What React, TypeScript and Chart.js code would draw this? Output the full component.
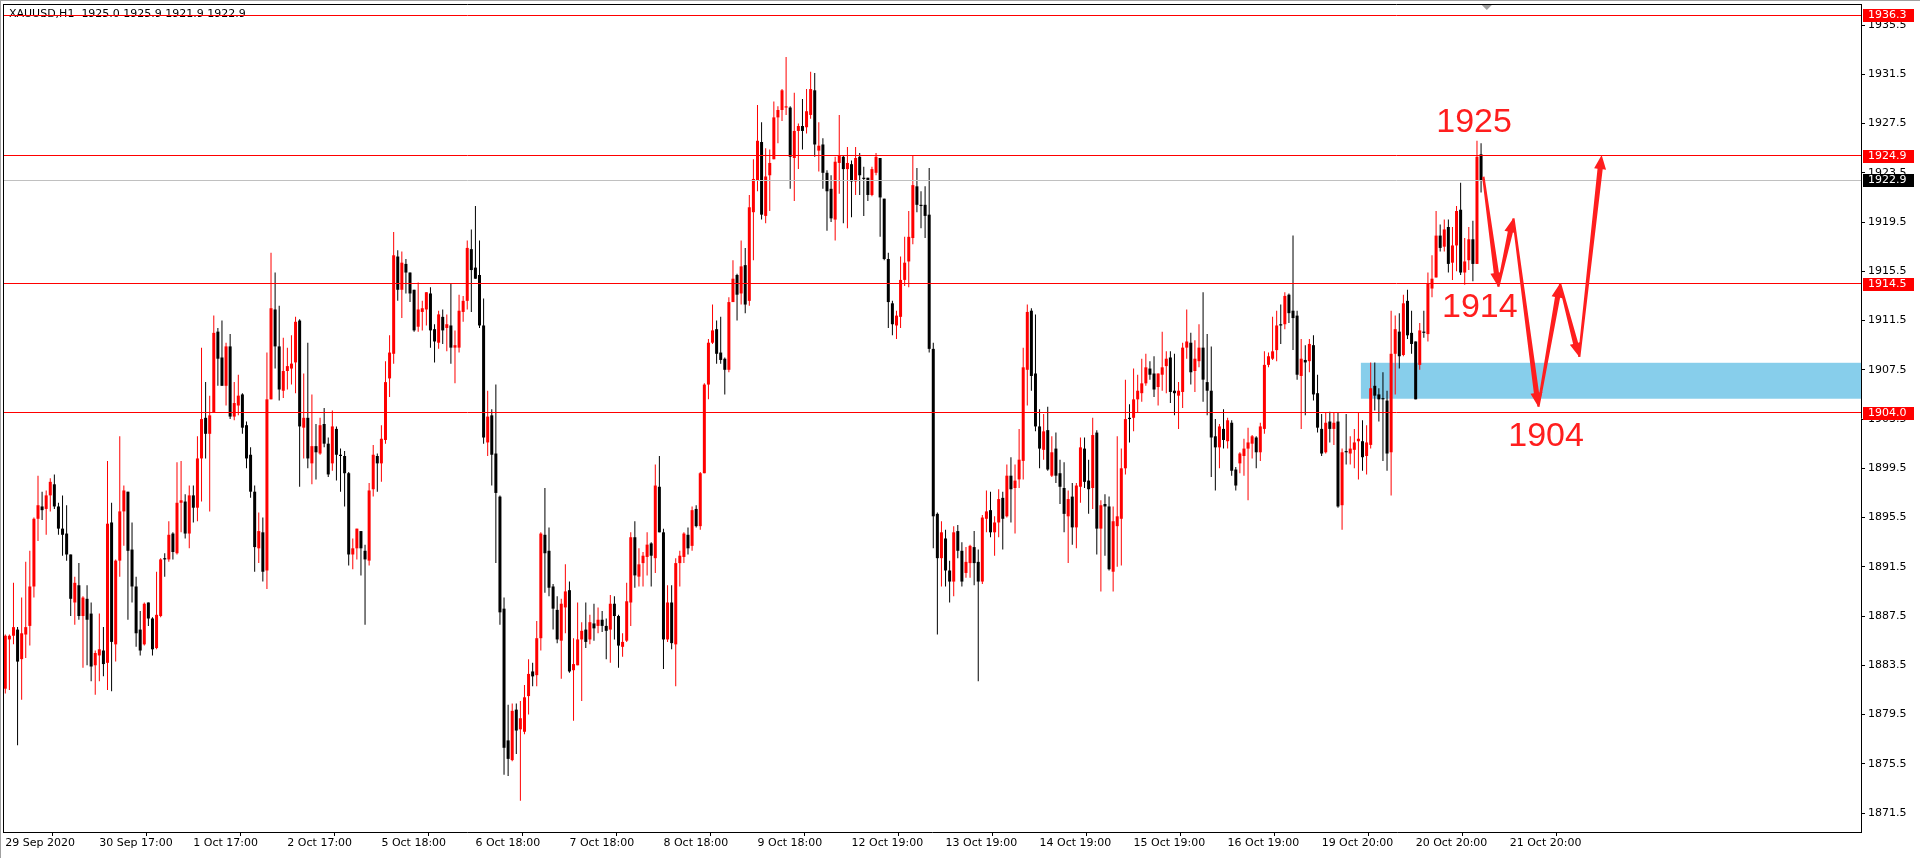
import React, { useEffect, useRef } from 'react';
import { Chart, registerables } from 'chart.js';

Chart.register(...registerables);

// ---------------- data (XAUUSD, H1) ----------------
const OPEN = [
  1881.6,1885.6,1885.9,1886.4,1884.0,1886.0,1886.7,1889.9,1895.4,1896.4,
  1896.2,1897.3,1898.2,1896.4,1894.6,1894.2,1892.5,1888.6,1890.0,1887.5,
  1888.9,1887.7,1883.5,1884.3,1884.7,1883.7,1895.1,1885.2,1892.0,1896.0,
  1897.6,1892.9,1889.9,1886.4,1885.2,1888.6,1887.3,1884.9,1887.5,1892.2,
  1892.1,1894.2,1892.6,1896.7,1896.8,1894.2,1897.3,1896.3,1900.3,1903.6,
  1902.3,1904.0,1910.6,1908.5,1906.2,1909.4,1903.7,1904.6,1905.5,1903.0,
  1900.6,1897.6,1893.0,1894.3,1891.2,1905.1,1912.4,1909.4,1905.8,1907.4,
  1907.6,1908.1,1911.5,1902.8,1903.6,1899.9,1901.3,1900.7,1903.1,1901.5,
  1899.9,1902.7,1900.6,1900.5,1899.1,1892.5,1893.0,1894.4,1892.8,1892.0,
  1897.8,1900.5,1899.9,1901.8,1906.8,1908.8,1916.7,1914.0,1916.1,1915.4,
  1914.0,1911.0,1912.2,1912.4,1913.7,1910.8,1909.7,1911.8,1910.9,1911.1,
  1909.3,1909.3,1912.2,1913.1,1917.3,1915.8,1915.2,1911.1,1901.6,1903.8,
  1900.7,1897.2,1888.1,1877.4,1875.8,1879.9,1878.3,1878.1,1881.0,1883.0,
  1882.7,1885.7,1894.1,1892.8,1889.9,1888.0,1885.5,1888.2,1889.6,1883.1,
  1883.5,1885.6,1886.4,1885.6,1886.9,1886.7,1887.2,1886.7,1886.4,1888.5,
  1887.5,1885.0,1885.5,1888.6,1893.9,1890.7,1891.8,1892.3,1893.4,1892.2,
  1898.0,1894.3,1885.6,1888.6,1885.2,1891.8,1892.3,1894.1,1893.2,1896.2,
  1894.8,1899.1,1906.3,1909.7,1910.8,1908.9,1908.4,1907.5,1913.0,1915.2,
  1913.7,1916.0,1913.1,1920.3,1922.9,1926.0,1920.0,1923.3,1924.6,1928.0,
  1928.6,1928.8,1928.8,1924.7,1926.9,1927.3,1927.2,1928.2,1930.2,1925.3,
  1925.8,1923.5,1922.2,1919.7,1924.3,1924.8,1923.8,1924.2,1922.8,1924.8,
  1923.1,1923.1,1921.7,1923.5,1924.7,1921.4,1916.5,1912.9,1911.1,1911.8,
  1914.8,1916.3,1918.2,1922.4,1920.9,1920.9,1920.1,1909.2,1895.8,1892.2,
  1893.8,1891.2,1890.3,1894.4,1892.8,1891.0,1891.8,1893.1,1891.9,1890.3,
  1895.4,1896.1,1894.3,1895.1,1897.1,1895.6,1898.9,1897.9,1898.6,1900.1,
  1907.5,1912.3,1907.2,1902.9,1901.0,1902.6,1898.9,1901.1,1899.1,1897.9,
  1895.6,1897.2,1894.7,1898.0,1901.1,1898.5,1897.9,1902.4,1894.6,1896.6,
  1896.4,1891.1,1894.8,1895.4,1899.5,1903.6,1903.6,1905.1,1905.6,1906.4,
  1907.6,1907.2,1906.1,1907.1,1907.8,1908.5,1905.8,1905.4,1905.7,1909.3,
  1909.7,1907.4,1908.2,1909.3,1906.5,1905.8,1902.1,1901.2,1902.7,1901.7,
  1903.2,1899.4,1899.9,1900.5,1901.1,1901.5,1902.0,1900.8,1902.7,1907.9,
  1908.4,1909.1,1911.2,1911.2,1913.6,1912.3,1911.9,1907.0,1908.3,1908.2,
  1909.5,1905.6,1902.7,1900.8,1903.3,1902.7,1903.3,1896.5,1900.9,1900.7,
  1901.0,1901.7,1901.7,1900.5,1901.4,1906.2,1905.5,1905.2,1905.0,1900.8,
  1908.8,1910.6,1908.7,1913.1,1910.5,1909.8,1907.9,1910.6,1910.4,1914.1,
  1915.0,1918.4,1917.5,1919.1,1916.2,1917.6,1920.5,1915.4,1916.4,1918.1,
  1916.1,1925.0,
];
const HIGH = [
  1886.0,1886.0,1890.2,1886.6,1889.0,1891.9,1892.8,1895.5,1898.9,1897.6,
  1897.7,1898.7,1899.0,1896.7,1897.3,1896.5,1892.5,1890.7,1891.8,1889.1,
  1890.0,1888.6,1884.7,1887.7,1886.6,1900.1,1896.7,1892.1,1902.1,1898.1,
  1897.6,1895.1,1890.7,1887.9,1888.6,1888.6,1887.4,1891.1,1892.2,1892.6,
  1895.2,1894.3,1900.0,1900.1,1897.4,1898.1,1898.1,1902.1,1909.3,1906.5,
  1905.4,1911.9,1910.9,1911.5,1909.7,1910.4,1906.5,1907.1,1905.6,1903.3,
  1901.2,1898.1,1895.9,1895.5,1908.9,1917.0,1915.4,1912.7,1910.1,1909.3,
  1910.3,1911.8,1911.6,1907.2,1909.7,1905.5,1903.1,1903.6,1904.4,1902.0,
  1904.2,1902.9,1901.1,1900.9,1899.2,1893.8,1894.6,1894.4,1893.3,1898.3,
  1901.4,1900.7,1903.0,1908.2,1910.3,1918.7,1917.2,1917.1,1916.5,1915.4,
  1914.0,1914.6,1913.1,1913.8,1914.2,1911.2,1912.3,1912.4,1912.0,1914.5,
  1910.7,1913.6,1913.5,1918.0,1918.9,1920.8,1918.0,1913.3,1905.8,1904.3,
  1906.3,1897.3,1889.0,1880.3,1880.4,1880.4,1880.6,1881.9,1884.0,1883.7,
  1887.1,1894.3,1897.9,1894.7,1890.1,1889.1,1888.9,1891.7,1890.3,1885.7,
  1888.6,1887.0,1888.6,1887.6,1888.5,1888.2,1887.9,1887.3,1889.2,1889.1,
  1887.6,1886.1,1890.2,1894.3,1895.2,1893.0,1892.7,1894.3,1893.5,1899.8,
  1900.5,1894.6,1890.0,1890.0,1892.2,1892.8,1894.3,1894.7,1896.4,1896.5,
  1899.2,1906.4,1910.0,1912.8,1911.5,1911.8,1908.5,1913.4,1916.4,1915.3,
  1918.0,1917.4,1921.7,1924.6,1929.0,1927.6,1925.5,1925.4,1929.3,1928.9,
  1930.3,1932.9,1928.9,1930.0,1927.5,1929.5,1930.3,1931.7,1931.6,1927.6,
  1926.3,1923.7,1923.3,1924.8,1928.2,1924.9,1925.6,1924.5,1925.6,1925.1,
  1924.0,1923.1,1924.0,1925.1,1924.7,1921.4,1917.0,1913.1,1912.3,1916.7,
  1918.3,1920.4,1924.9,1923.9,1922.0,1922.4,1923.9,1909.7,1895.9,1895.2,
  1894.5,1892.0,1894.8,1894.9,1893.5,1893.1,1893.3,1894.4,1892.9,1895.7,
  1897.7,1897.6,1895.6,1897.8,1897.6,1899.8,1900.4,1899.8,1902.7,1909.3,
  1912.8,1912.5,1912.0,1904.3,1903.9,1904.5,1902.1,1902.4,1900.2,1900.0,
  1897.7,1898.3,1898.3,1902.0,1902.0,1900.2,1903.6,1902.6,1896.9,1897.4,
  1897.2,1896.4,1902.1,1901.1,1906.7,1904.7,1907.6,1907.1,1908.4,1908.8,
  1908.2,1908.6,1907.2,1910.6,1909.0,1909.0,1908.8,1906.5,1909.7,1912.4,
  1910.5,1909.9,1911.2,1913.8,1910.4,1909.4,1903.5,1903.1,1904.3,1903.6,
  1903.4,1899.6,1900.8,1901.9,1902.8,1902.2,1902.1,1903.2,1909.0,1908.9,
  1911.8,1912.3,1912.8,1913.8,1913.7,1918.4,1912.3,1910.0,1909.5,1910.0,
  1910.3,1907.1,1903.9,1904.0,1904.1,1904.0,1904.0,1901.1,1903.9,1902.1,
  1902.7,1904.0,1903.4,1903.0,1908.1,1908.1,1906.0,1907.3,1905.8,1912.3,
  1911.9,1912.1,1913.6,1914.0,1912.3,1909.8,1911.3,1912.3,1915.4,1916.8,
  1920.4,1919.3,1919.7,1919.7,1919.1,1920.8,1922.7,1918.2,1919.1,1919.6,
  1926.1,1925.9,
];
const LOW = [
  1881.2,1881.5,1885.2,1877.0,1880.7,1884.1,1885.1,1889.0,1893.6,1895.3,
  1894.1,1896.0,1896.2,1894.1,1892.4,1892.0,1887.5,1886.8,1887.2,1883.3,
  1883.5,1882.2,1881.1,1882.2,1882.6,1881.5,1881.4,1883.8,1890.7,1893.2,
  1887.2,1888.6,1885.0,1884.3,1885.1,1886.7,1884.3,1884.8,1887.4,1890.7,
  1891.9,1892.1,1892.5,1894.3,1893.8,1893.0,1895.1,1895.2,1896.8,1900.3,
  1896.0,1904.0,1906.2,1906.2,1904.6,1903.5,1903.4,1903.8,1902.3,1899.5,
  1897.1,1891.1,1891.8,1890.3,1889.7,1905.1,1907.6,1905.0,1905.2,1905.9,
  1906.3,1905.6,1898.0,1900.3,1899.5,1898.2,1898.6,1900.6,1901.2,1898.8,
  1899.3,1898.5,1897.6,1896.4,1891.6,1891.3,1892.1,1890.8,1886.8,1891.6,
  1897.2,1897.6,1898.4,1901.5,1905.3,1908.0,1913.1,1911.7,1913.7,1913.0,
  1910.6,1910.6,1910.7,1911.1,1909.3,1908.1,1909.2,1909.6,1909.0,1908.0,
  1906.4,1908.9,1911.4,1912.4,1912.2,1914.9,1910.9,1901.5,1900.5,1898.1,
  1891.8,1886.8,1874.6,1874.5,1875.7,1876.3,1872.5,1877.9,1879.5,1881.8,
  1881.8,1884.7,1889.4,1889.1,1886.4,1885.3,1882.4,1886.1,1882.9,1879.0,
  1883.5,1880.6,1884.9,1885.2,1885.5,1886.1,1886.2,1884.0,1883.7,1885.6,
  1883.3,1884.2,1885.4,1886.7,1889.8,1889.9,1889.9,1890.8,1889.9,1891.0,
  1894.3,1883.2,1885.4,1884.8,1881.8,1889.9,1891.8,1892.5,1892.8,1894.7,
  1894.5,1899.1,1905.1,1909.6,1908.0,1908.0,1905.5,1907.3,1913.0,1911.5,
  1912.8,1912.1,1912.7,1916.4,1922.0,1919.7,1919.4,1920.4,1924.6,1925.9,
  1927.7,1928.2,1922.2,1921.2,1923.8,1925.4,1926.7,1927.9,1924.8,1923.6,
  1922.2,1918.8,1919.5,1918.0,1921.8,1919.4,1919.0,1919.9,1921.7,1921.7,
  1920.0,1921.2,1921.6,1923.3,1918.3,1916.4,1910.9,1910.3,1910.0,1910.9,
  1914.3,1914.2,1917.7,1920.3,1919.0,1918.2,1908.9,1893.0,1886.0,1889.9,
  1889.9,1888.6,1889.1,1892.2,1889.9,1890.6,1890.6,1890.0,1882.2,1890.1,
  1894.3,1893.9,1892.4,1893.9,1892.9,1895.5,1895.1,1894.2,1897.9,1898.6,
  1904.6,1905.8,1902.5,1899.5,1900.2,1899.3,1898.8,1898.3,1896.6,1894.3,
  1891.8,1893.3,1893.0,1896.7,1897.9,1895.8,1896.2,1892.5,1889.5,1892.4,
  1891.2,1889.5,1891.5,1891.6,1899.0,1901.6,1902.5,1904.0,1904.9,1906.2,
  1906.7,1905.3,1904.6,1905.8,1905.6,1904.8,1903.8,1902.7,1904.4,1908.4,
  1906.3,1905.7,1907.7,1904.9,1903.8,1898.8,1897.7,1899.5,1901.1,1901.1,
  1898.9,1897.7,1899.1,1898.9,1896.9,1900.3,1899.5,1900.1,1902.3,1907.7,
  1908.3,1908.2,1909.6,1910.8,1911.3,1909.1,1906.7,1902.7,1903.8,1907.3,
  1905.0,1902.4,1900.5,1900.7,1901.6,1901.4,1896.3,1894.5,1899.8,1899.8,
  1899.5,1898.6,1899.3,1899.0,1901.1,1904.2,1903.3,1900.1,1899.3,1897.3,
  1905.5,1907.6,1908.6,1910.0,1908.8,1905.1,1907.5,1910.1,1909.8,1913.4,
  1915.0,1917.1,1917.1,1915.4,1914.8,1915.5,1915.2,1914.4,1915.6,1914.7,
  1916.1,1921.9,
];
const CLOSE = [
  1885.9,1885.9,1886.6,1883.8,1886.1,1886.6,1889.9,1895.4,1896.5,1896.1,
  1897.3,1898.4,1896.4,1894.6,1894.1,1892.5,1888.9,1890.2,1887.5,1889.0,
  1887.2,1883.4,1884.5,1884.8,1883.6,1895.0,1885.4,1892.0,1896.0,1897.7,
  1892.8,1889.9,1886.1,1884.7,1888.5,1887.3,1884.8,1887.6,1892.1,1892.1,
  1894.1,1892.7,1896.7,1896.9,1894.2,1897.3,1896.3,1900.3,1903.5,1902.3,
  1903.8,1910.5,1908.4,1906.2,1909.4,1903.7,1904.8,1905.4,1902.8,1900.3,
  1897.6,1893.1,1894.4,1891.1,1905.1,1912.5,1909.4,1905.9,1907.4,1907.8,
  1908.0,1911.4,1902.9,1903.6,1900.3,1901.3,1900.8,1903.0,1901.5,1899.0,
  1902.9,1900.6,1900.5,1899.1,1892.5,1893.0,1894.6,1893.0,1892.1,1897.7,
  1900.6,1899.9,1901.9,1906.5,1908.9,1916.8,1914.0,1916.2,1915.4,1913.7,
  1910.7,1912.4,1912.5,1913.8,1910.7,1909.8,1912.0,1910.7,1911.2,1909.3,
  1909.5,1912.3,1913.1,1917.4,1915.6,1914.9,1911.1,1902.0,1903.7,1900.6,
  1897.5,1887.8,1876.8,1875.9,1879.8,1878.2,1879.2,1880.9,1882.8,1882.6,
  1885.7,1894.2,1892.6,1889.8,1888.1,1885.6,1888.5,1889.5,1883.0,1883.6,
  1885.6,1886.3,1885.4,1887.0,1886.5,1887.2,1886.7,1886.3,1888.5,1887.5,
  1885.1,1885.4,1888.7,1893.9,1890.8,1891.7,1892.4,1893.3,1892.4,1898.1,
  1894.3,1885.6,1888.6,1885.3,1891.8,1892.4,1894.2,1893.0,1896.1,1894.8,
  1899.1,1906.3,1909.7,1910.7,1908.8,1908.3,1907.5,1913.0,1914.9,1913.6,
  1915.9,1912.8,1920.7,1923.0,1926.1,1920.1,1923.2,1924.3,1928.0,1928.6,
  1930.2,1928.9,1924.8,1926.9,1927.3,1926.9,1928.5,1930.3,1925.8,1925.7,
  1923.5,1922.0,1919.8,1924.4,1924.9,1923.8,1924.3,1922.8,1924.7,1923.3,
  1923.0,1921.7,1923.8,1924.8,1921.5,1916.5,1913.0,1911.2,1911.9,1914.8,
  1916.2,1918.3,1922.5,1920.9,1920.8,1920.0,1909.2,1895.6,1892.2,1894.3,
  1891.2,1890.3,1894.3,1892.8,1890.3,1891.9,1893.2,1891.8,1890.3,1895.5,
  1896.0,1894.3,1895.1,1897.0,1895.4,1898.9,1897.8,1898.5,1900.2,1907.7,
  1912.2,1907.0,1902.9,1901.1,1902.5,1899.4,1900.8,1898.9,1898.0,1895.8,
  1897.0,1894.7,1898.1,1901.2,1898.4,1897.8,1902.2,1894.6,1896.5,1896.4,
  1891.3,1895.2,1895.6,1899.5,1903.5,1903.5,1905.1,1905.8,1906.4,1907.7,
  1907.1,1905.9,1907.2,1907.7,1908.4,1905.7,1905.6,1905.8,1909.3,1909.8,
  1907.3,1908.4,1909.3,1906.7,1905.8,1902.0,1901.2,1902.9,1901.8,1903.4,
  1899.3,1898.1,1900.7,1901.1,1901.6,1902.1,1900.8,1902.9,1907.9,1908.6,
  1909.0,1911.1,1911.1,1913.5,1912.1,1911.7,1907.1,1908.4,1908.1,1909.6,
  1905.5,1902.8,1900.7,1903.2,1902.7,1903.2,1896.4,1900.8,1900.8,1901.1,
  1901.6,1901.9,1900.4,1901.6,1906.0,1905.4,1905.1,1905.1,1900.7,1908.8,
  1910.8,1908.6,1912.9,1910.3,1909.6,1905.1,1910.7,1910.5,1914.5,1914.9,
  1918.4,1917.4,1918.9,1916.1,1917.6,1920.4,1915.4,1916.3,1918.1,1916.1,
  1924.8,1922.9,
];

const X_TICK_LABELS = [
  '29 Sep 2020', '30 Sep 17:00', '1 Oct 17:00', '2 Oct 17:00', '5 Oct 18:00',
  '6 Oct 18:00', '7 Oct 18:00', '8 Oct 18:00', '9 Oct 18:00', '12 Oct 19:00',
  '13 Oct 19:00', '14 Oct 19:00', '15 Oct 19:00', '16 Oct 19:00', '19 Oct 20:00',
  '20 Oct 20:00', '21 Oct 20:00',
];
const X_TICK_STEP = 23; // bars between time labels
const Y_TICKS = [
  1871.5, 1875.5, 1879.5, 1883.5, 1887.5, 1891.5, 1895.5, 1899.5, 1903.5,
  1907.5, 1911.5, 1915.5, 1919.5, 1923.5, 1927.5, 1931.5, 1935.5,
];
const LEVELS = [1936.3, 1924.9, 1914.5, 1904.0];
const BID = 1922.9;
const ZONE_START = [331.6];
const ZONE_RANGE = [1905.15, 1908.07];
const ARROW_X = [361.55, 365.2, 368.9, 375.0, 380.3, 385.0, 390.5];
const ARROW_Y = [1923.18, 1914.24, 1919.8, 1904.5, 1914.5, 1908.55, 1924.94];
const NOTE_TEXT = ['1925', '1914', '1904'];
const NOTE_X = [359.3, 360.7, 376.9];
const NOTE_Y = [1927.6, 1912.55, 1902.07];
const SHIFT_MARK = [362.4];
const TITLE = 'XAUUSD,H1  1925.0 1925.9 1921.9 1922.9';

const X_MIN = -0.5626;
const X_MAX = 453.94;
const Y_MIN = 1869.96;
const Y_MAX = 1937.21;

const RED = '#ff0000';
const BLACK = '#000000';
const NOTE_RED = '#ff1e1e';
const AXIS_FONT = { family: "'DejaVu Sans'", size: 11 };

function drawArrow(ctx: CanvasRenderingContext2D, x1: number, y1: number, x2: number, y2: number) {
  const dx = x2 - x1, dy = y2 - y1;
  const len = Math.hypot(dx, dy);
  const ux = dx / len, uy = dy / len;
  const nx = -uy, ny = ux;
  const headLen = 14, headW = 6, w0 = 1.2, w1 = 2.6;
  const bx = x2 - ux * headLen, by = y2 - uy * headLen;
  ctx.beginPath();
  ctx.moveTo(x1 + nx * w0, y1 + ny * w0);
  ctx.lineTo(bx + nx * w1, by + ny * w1);
  ctx.lineTo(bx + nx * headW, by + ny * headW);
  ctx.lineTo(x2, y2);
  ctx.lineTo(bx - nx * headW, by - ny * headW);
  ctx.lineTo(bx - nx * w1, by - ny * w1);
  ctx.lineTo(x1 - nx * w0, y1 - ny * w0);
  ctx.closePath();
  ctx.fill();
}

const overlay = {
  id: 'mt4overlay',
  beforeDatasetsDraw(chart: any) {
    const { ctx, chartArea: a, scales } = chart;
    const x = scales.x, y = scales.y;
    ctx.save();
    // support zone (background rectangle)
    const zx = x.getPixelForValue(ZONE_START[0]);
    const zy1 = y.getPixelForValue(ZONE_RANGE[1]);
    const zy2 = y.getPixelForValue(ZONE_RANGE[0]);
    ctx.fillStyle = '#87ceeb';
    ctx.fillRect(zx, zy1, a.right - zx, zy2 - zy1);
    // title
    ctx.fillStyle = '#000';
    ctx.font = "11px 'DejaVu Sans'";
    ctx.textBaseline = 'middle';
    ctx.textAlign = 'left';
    ctx.fillText(TITLE, a.left + 6, a.top + 10);
    ctx.restore();
  },
  afterDatasetsDraw(chart: any) {
    const { ctx, chartArea: a, scales } = chart;
    const x = scales.x, y = scales.y;
    ctx.save();
    ctx.lineWidth = 1;
    // bid line
    let py = Math.floor(y.getPixelForValue(BID)) + 0.5;
    ctx.strokeStyle = '#c0c0c0';
    ctx.beginPath();
    ctx.moveTo(a.left, py);
    ctx.lineTo(a.right, py);
    ctx.stroke();
    // horizontal levels
    ctx.strokeStyle = RED;
    LEVELS.forEach((v) => {
      py = Math.floor(y.getPixelForValue(v)) + 0.5;
      ctx.beginPath();
      ctx.moveTo(a.left, py);
      ctx.lineTo(a.right, py);
      ctx.stroke();
    });
    // projected path arrows
    ctx.fillStyle = NOTE_RED;
    for (let k = 0; k < ARROW_X.length - 1; k++) {
      drawArrow(
        ctx,
        x.getPixelForValue(ARROW_X[k]), y.getPixelForValue(ARROW_Y[k]),
        x.getPixelForValue(ARROW_X[k + 1]), y.getPixelForValue(ARROW_Y[k + 1])
      );
    }
    // notes
    ctx.font = "34px 'Liberation Sans'";
    ctx.textAlign = 'center';
    ctx.textBaseline = 'middle';
    NOTE_TEXT.forEach((t, k) => {
      ctx.fillText(t, x.getPixelForValue(NOTE_X[k]), y.getPixelForValue(NOTE_Y[k]));
    });
    // shift marker
    const sx = x.getPixelForValue(SHIFT_MARK[0]);
    ctx.fillStyle = '#a0a0a0';
    ctx.beginPath();
    ctx.moveTo(sx - 5, a.top + 1);
    ctx.lineTo(sx + 5, a.top + 1);
    ctx.lineTo(sx, a.top + 6);
    ctx.closePath();
    ctx.fill();
    ctx.restore();
  },
  afterDraw(chart: any) {
    const { ctx, chartArea: a, scales } = chart;
    const y = scales.y;
    ctx.save();
    // price boxes on the axis
    ctx.font = "11px 'DejaVu Sans'";
    ctx.textBaseline = 'middle';
    ctx.textAlign = 'left';
    const box = (v: number, bg: string) => {
      const py = Math.round(y.getPixelForValue(v));
      ctx.fillStyle = bg;
      ctx.fillRect(a.right + 2, py - 6, 51, 13);
      ctx.fillStyle = '#fff';
      ctx.fillText(v.toFixed(1), a.right + 7, py + 0.5);
    };
    LEVELS.forEach((v) => box(v, RED));
    box(BID, BLACK);
    // frame
    ctx.strokeStyle = '#000';
    ctx.lineWidth = 1;
    ctx.beginPath();
    ctx.moveTo(a.left + 0.5, a.top);
    ctx.lineTo(a.left + 0.5, a.bottom);
    ctx.moveTo(a.left, a.top + 0.5);
    ctx.lineTo(a.right, a.top + 0.5);
    ctx.stroke();
    ctx.strokeStyle = '#a0a0a0';
    ctx.beginPath();
    ctx.moveTo(0.5, 0);
    ctx.lineTo(0.5, chart.height);
    ctx.moveTo(0, 0.5);
    ctx.lineTo(chart.width, 0.5);
    ctx.stroke();
    ctx.restore();
  },
};

export default function App() {
  const ref = useRef<HTMLCanvasElement>(null);

  useEffect(() => {
    const colors = OPEN.map((o, i) => (CLOSE[i] > o ? RED : BLACK));
    const bodies = OPEN.map((o, i) => {
      const c = CLOSE[i];
      const lo = Math.min(o, c), hi = Math.max(o, c);
      const mid = (lo + hi) / 2;
      return { x: i, y: hi - lo < 0.08 ? [mid - 0.045, mid + 0.045] : [lo, hi] };
    });
    const wicks = OPEN.map((o, i) => ({
      x: i,
      y: [Math.min(LOW[i], o, CLOSE[i]), Math.max(HIGH[i], o, CLOSE[i])],
    }));

    const gridOpts = {
      display: true,
      drawOnChartArea: false,
      drawTicks: true,
      tickLength: 4,
      color: '#000',
      lineWidth: 1,
    };

    const chart = new Chart(ref.current as HTMLCanvasElement, {
      type: 'bar',
      data: {
        datasets: [
          {
            label: 'body',
            data: bodies as any,
            backgroundColor: colors,
            borderWidth: 0,
            barThickness: 3,
            grouped: false,
            inflateAmount: 0,
            order: 0,
          } as any,
          {
            label: 'wick',
            data: wicks as any,
            backgroundColor: colors,
            borderWidth: 0,
            barThickness: 1,
            grouped: false,
            inflateAmount: 0,
            order: 1,
          } as any,
        ],
      },
      options: {
        animation: false,
        responsive: false,
        devicePixelRatio: 1,
        layout: { padding: { left: 3, top: 4, right: 0, bottom: 0 }, autoPadding: false } as any,
        plugins: {
          legend: { display: false },
          tooltip: { enabled: false },
          title: { display: false },
        },
        scales: {
          x: {
            type: 'linear',
            min: X_MIN,
            max: X_MAX,
            offset: false,
            grid: gridOpts as any,
            border: { display: true, color: '#000', width: 1 },
            ticks: {
              autoSkip: false,
              maxRotation: 0,
              minRotation: 0,
              align: 'start',
              padding: 1,
              color: '#000',
              font: AXIS_FONT,
              callback: (v: any) => X_TICK_LABELS[Math.round(Number(v) / X_TICK_STEP)] ?? '',
            },
            afterBuildTicks: (s: any) => {
              s.ticks = X_TICK_LABELS.map((_, k) => ({ value: k * X_TICK_STEP }));
            },
            afterFit: (s: any) => {
              s.height = 26;
              s.paddingLeft = 0;
              s.paddingRight = 0;
            },
          } as any,
          y: {
            type: 'linear',
            position: 'right',
            min: Y_MIN,
            max: Y_MAX,
            grid: gridOpts as any,
            border: { display: true, color: '#000', width: 1 },
            ticks: {
              color: '#000',
              font: AXIS_FONT,
              padding: 3,
              callback: (v: any) => Number(v).toFixed(1),
            },
            afterBuildTicks: (s: any) => {
              s.ticks = Y_TICKS.map((v) => ({ value: v }));
            },
            afterFit: (s: any) => {
              s.width = 59;
              s.paddingTop = 0;
              s.paddingBottom = 0;
            },
          } as any,
        },
      },
      plugins: [overlay],
    });

    return () => chart.destroy();
  }, []);

  return (
    <div style={{ position: 'fixed', left: 0, top: 0, width: 1920, height: 858, background: '#fff' }}>
      <canvas ref={ref} width={1920} height={858} style={{ display: 'block', width: 1920, height: 858 }} />
    </div>
  );
}
